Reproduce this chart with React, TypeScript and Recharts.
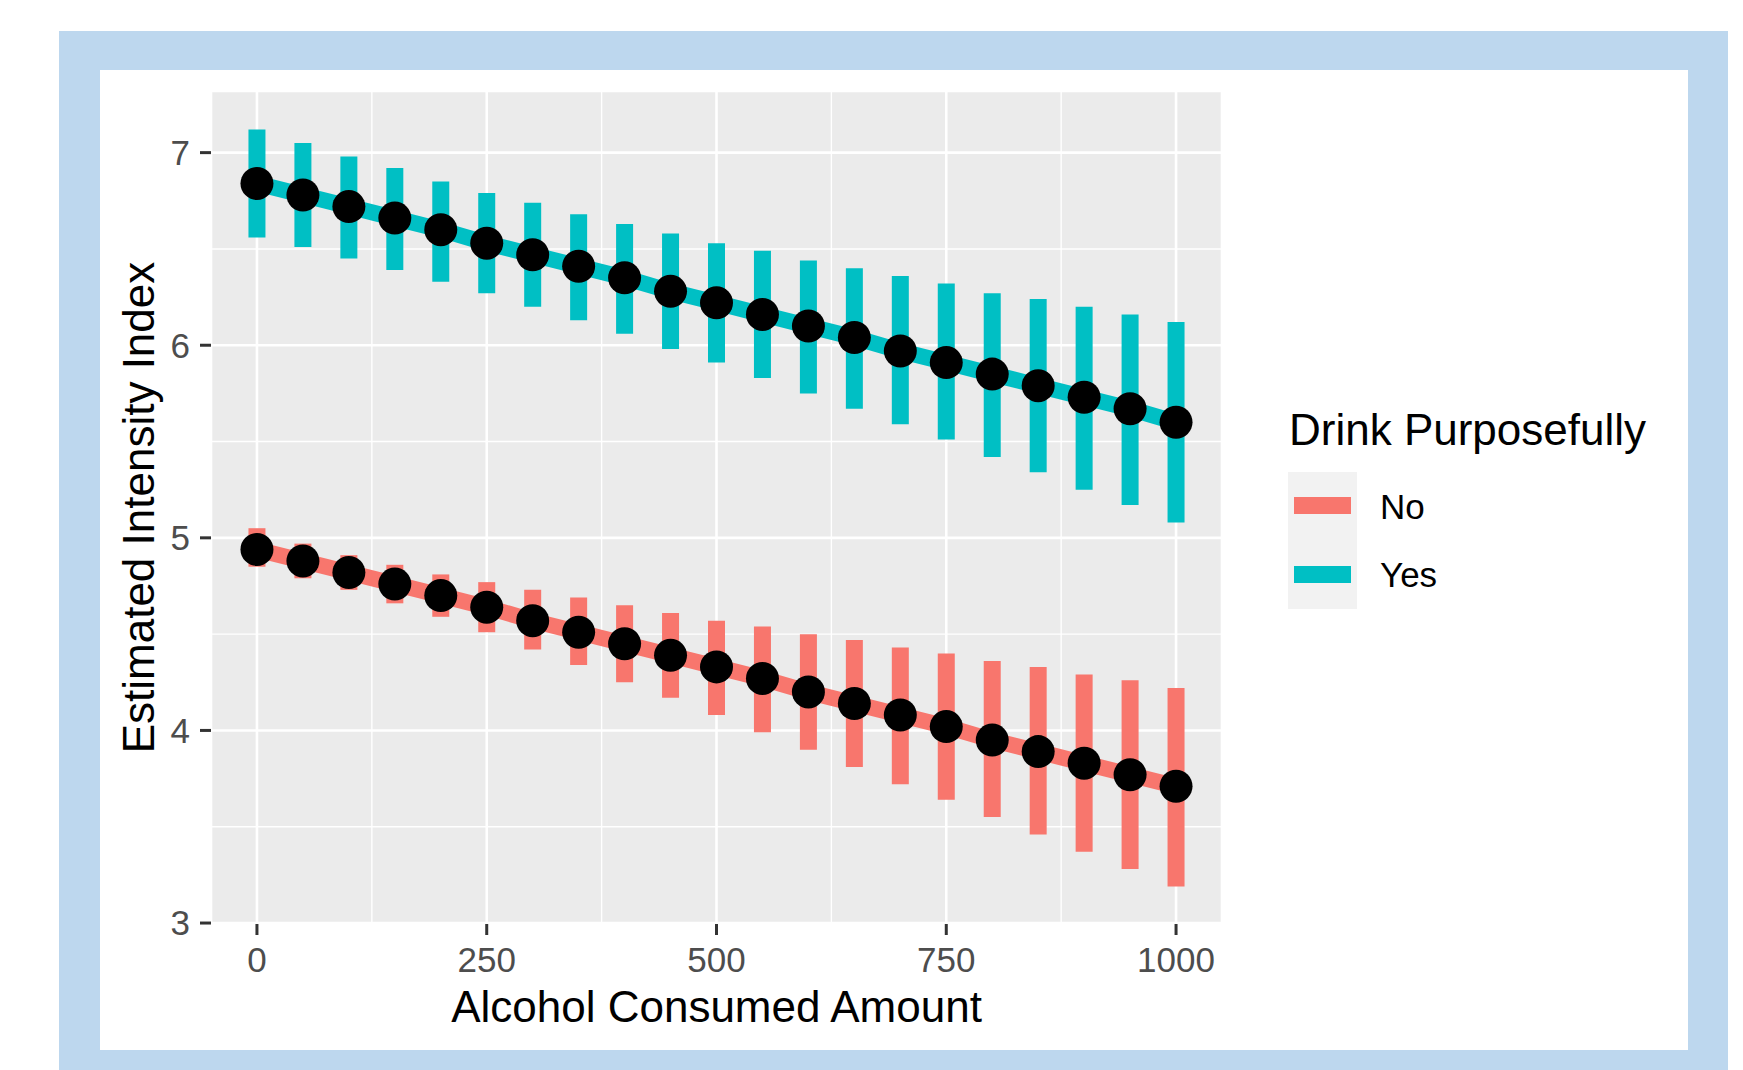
import React from 'react';
import { ComposedChart, Line, ErrorBar, XAxis, YAxis, CartesianGrid, Legend } from 'recharts';

// alcohol consumed amount (x)
const amounts = [0, 50, 100, 150, 200, 250, 300, 350, 400, 450, 500, 550, 600, 650, 700, 750, 800, 850, 900, 950, 1000];

// Drink Purposefully = No
const noEstimate = [4.94, 4.88, 4.82, 4.76, 4.70, 4.64, 4.57, 4.51, 4.45, 4.39, 4.33, 4.27, 4.20, 4.14, 4.08, 4.02, 3.95, 3.89, 3.83, 3.77, 3.71];
const noLower = [4.85, 4.79, 4.73, 4.66, 4.59, 4.51, 4.42, 4.34, 4.25, 4.17, 4.08, 3.99, 3.90, 3.81, 3.72, 3.64, 3.55, 3.46, 3.37, 3.28, 3.19];
const noUpper = [5.05, 4.97, 4.91, 4.86, 4.81, 4.77, 4.73, 4.69, 4.65, 4.61, 4.57, 4.54, 4.50, 4.47, 4.43, 4.40, 4.36, 4.33, 4.29, 4.26, 4.22];

// Drink Purposefully = Yes
const yesEstimate = [6.84, 6.78, 6.72, 6.66, 6.60, 6.53, 6.47, 6.41, 6.35, 6.28, 6.22, 6.16, 6.10, 6.04, 5.97, 5.91, 5.85, 5.79, 5.73, 5.67, 5.60];
const yesLower = [6.56, 6.51, 6.45, 6.39, 6.33, 6.27, 6.20, 6.13, 6.06, 5.98, 5.91, 5.83, 5.75, 5.67, 5.59, 5.51, 5.42, 5.34, 5.25, 5.17, 5.08];
const yesUpper = [7.12, 7.05, 6.98, 6.92, 6.85, 6.79, 6.74, 6.68, 6.63, 6.58, 6.53, 6.49, 6.44, 6.40, 6.36, 6.32, 6.27, 6.24, 6.20, 6.16, 6.12];

const groups = ['No', 'Yes'];
const groupColors = ['#F8766D', '#00BFC4'];

const xTicks = [0, 250, 500, 750, 1000];
const xMinor = [125, 375, 625, 875];
const yTicks = [3, 4, 5, 6, 7];
const yMinor = [3.5, 4.5, 5.5, 6.5];

const rows = amounts.map((amount, i) => ({
  amount,
  no: noEstimate[i],
  noErr: [noEstimate[i] - noLower[i], noUpper[i] - noEstimate[i]],
  yes: yesEstimate[i],
  yesErr: [yesEstimate[i] - yesLower[i], yesUpper[i] - yesEstimate[i]],
}));

const FONT = '"Liberation Sans", Arial, sans-serif';
const tickStyle = { fill: '#4d4d4d', fontSize: 35, fontFamily: FONT };
const tickLine = { stroke: '#333333', strokeWidth: 3 };

function YTitle({ viewBox }: any) {
  const x = viewBox.x + 43;
  const y = viewBox.y + viewBox.height / 2;
  return (
    <text x={x} y={y} transform={`rotate(-90 ${x} ${y})`} textAnchor="middle" fontSize={44} fontFamily={FONT} fill="#000">
      Estimated Intensity Index
    </text>
  );
}

function XTitle({ viewBox }: any) {
  const x = viewBox.x + viewBox.width / 2;
  const y = viewBox.y + 98;
  return (
    <text x={x} y={y} textAnchor="middle" fontSize={44} fontFamily={FONT} fill="#000">
      Alcohol Consumed Amount
    </text>
  );
}

function LegendBox() {
  return (
    <svg width={440} height={220} style={{ display: 'block' }}>
      <text x={9} y={45} fontSize={44} fontFamily={FONT} fill="#000">Drink Purposefully</text>
      <rect x={8} y={72} width={69} height={137} fill="#f2f2f2" />
      {groups.map((g, i) => (
        <g key={g}>
          <rect x={14} y={97 + i * 69} width={57} height={17} fill={groupColors[i]} />
          <text x={100} y={119 + i * 68} fontSize={35} fontFamily={FONT} fill="#000">{g}</text>
        </g>
      ))}
    </svg>
  );
}

export default function App() {
  return (
    <div style={{ position: 'absolute', left: 0, top: 0, width: 1743, height: 1070, background: '#fff', overflow: 'hidden' }}>
      <div style={{ position: 'absolute', left: 59, top: 31, width: 1669, height: 1039, background: '#bdd7ee' }} />
      <div style={{ position: 'absolute', left: 100, top: 70, width: 1588, height: 980, background: '#fff' }} />
      <ComposedChart
        width={1743}
        height={1070}
        data={rows}
        margin={{ top: 91, right: 521, bottom: 86, left: 111 }}
        style={{ position: 'absolute', left: 0, top: 0, fontFamily: FONT }}
      >
        <CartesianGrid verticalValues={xMinor} horizontalValues={yMinor} stroke="#ffffff" strokeWidth={1.4} fill="#ebebeb" fillOpacity={1} />
        <CartesianGrid stroke="#ffffff" strokeWidth={2.6} />
        <XAxis
          dataKey="amount"
          type="number"
          domain={[-50, 1050]}
          ticks={xTicks}
          allowDataOverflow
          height={60}
          axisLine={false}
          tickLine={tickLine}
          tickSize={11}
          tickMargin={12}
          tick={tickStyle}
          label={<XTitle />}
        />
        <YAxis
          type="number"
          domain={[2.995, 7.32]}
          ticks={yTicks}
          allowDataOverflow
          width={100}
          axisLine={false}
          tickLine={tickLine}
          tickSize={11}
          tickMargin={10}
          tick={tickStyle}
          label={<YTitle />}
        />
        {groups.map((g, i) => (
          <Line
            key={g}
            name={g}
            dataKey={i === 0 ? 'no' : 'yes'}
            stroke={groupColors[i]}
            strokeWidth={16}
            dot={{ r: 16.5, fill: '#000', stroke: 'none' }}
            activeDot={false}
            isAnimationActive={false}
          >
            <ErrorBar dataKey={i === 0 ? 'noErr' : 'yesErr'} direction="y" width={0} stroke={groupColors[i]} strokeWidth={17} isAnimationActive={false} />
          </Line>
        ))}
        <Legend
          layout="vertical"
          align="center"
          verticalAlign="middle"
          wrapperStyle={{ left: 1280, top: 400, width: 440, height: 220 }}
          content={() => <LegendBox />}
        />
      </ComposedChart>
    </div>
  );
}
